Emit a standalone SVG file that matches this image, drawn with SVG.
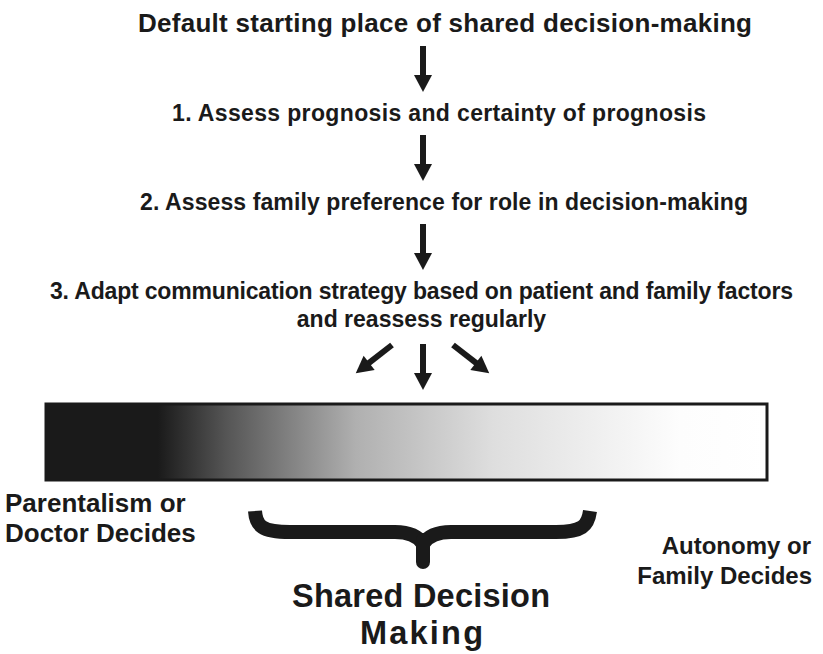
<svg xmlns="http://www.w3.org/2000/svg" width="823" height="654" viewBox="0 0 823 654">
<defs>
<style>
text{font-family:"Liberation Sans",Arial,sans-serif;font-weight:bold;fill:#1a1a1a;text-anchor:middle}
.t1{font-size:26px}
.t2{font-size:23px}
.tl{font-size:26px}
.tr{font-size:24px}
.t4{font-size:32.5px}
.l{text-anchor:start}
.r{text-anchor:end}
</style>
<linearGradient id="g" x1="46" y1="0" x2="767" y2="0" gradientUnits="userSpaceOnUse">
<stop offset="0" stop-color="#1a1a1a"/>
<stop offset="0.155" stop-color="#1a1a1a"/>
<stop offset="0.25" stop-color="#555"/>
<stop offset="0.43" stop-color="#b0b0b0"/>
<stop offset="0.62" stop-color="#dedede"/>
<stop offset="0.88" stop-color="#fdfdfd"/>
<stop offset="1" stop-color="#fff"/>
</linearGradient>
<g id="va"><rect x="-3" y="0" width="6" height="30"/><polygon points="-9,29 9,29 0,46"/></g>
</defs>
<rect width="823" height="654" fill="#fff"/>
<g id="title"><text class="t1" x="445" y="32" textLength="614">Default starting place of shared decision-making</text></g>
<g id="step1"><text class="t2" x="439" y="121" textLength="534">1. Assess prognosis and certainty of prognosis</text></g>
<g id="step2"><text class="t2" x="444" y="210" textLength="608">2. Assess family preference for role in decision-making</text></g>
<g id="step3"><text class="t2" x="421.5" y="299" textLength="743">3. Adapt communication strategy based on patient and family factors</text><text class="t2" x="421.5" y="327">and reassess regularly</text></g>
<g id="spectrum"><rect x="46" y="404" width="721" height="76" fill="url(#g)" stroke="#1a1a1a" stroke-width="3"/></g>
<g id="left"><text class="tl l" x="5" y="512">Parentalism or</text><text class="tl l" x="5" y="542">Doctor Decides</text></g>
<g id="right"><text class="tr r" x="811" y="554">Autonomy or</text><text class="tr r" x="812" y="584">Family Decides</text></g>
<g id="shared"><path d="M255,511 C256,526 262,532 290,532 L395,532 C410,532 418,536 423,544 C428,536 436,532 451,532 L556,532 C582,532 588,526 590,511" fill="none" stroke="#1a1a1a" stroke-width="14"/><line x1="423" y1="540" x2="423" y2="562" stroke="#1a1a1a" stroke-width="14" stroke-linecap="round"/><text class="t4" x="421" y="607" textLength="258">Shared Decision</text><text class="t4" x="421.5" y="644" textLength="123">Making</text></g>
<g id="connectors" fill="#1a1a1a">
<use href="#va" x="423" y="46"/>
<use href="#va" x="423" y="135"/>
<use href="#va" x="423" y="224"/>
<use href="#va" x="423" y="344"/>
<g transform="translate(392,345) rotate(52)"><rect x="-3" y="0" width="6" height="30"/><polygon points="-9,29 9,29 0,46"/></g>
<g transform="translate(453,345) rotate(-52)"><rect x="-3" y="0" width="6" height="30"/><polygon points="-9,29 9,29 0,46"/></g>
</g>
</svg>
